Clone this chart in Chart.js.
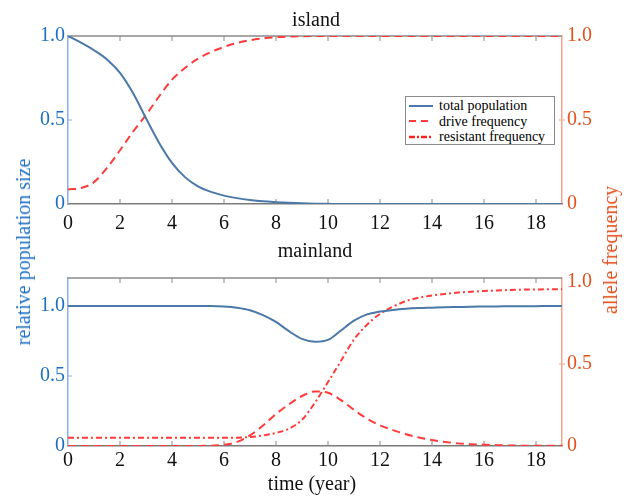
<!DOCTYPE html>
<html>
<head>
<meta charset="utf-8">
<script src="https://cdn.jsdelivr.net/npm/chart.js@4"></script>
<style>
  body { margin:0; background:#fff; font-family:"Liberation Serif", "Times New Roman", serif; }
  #wrap { position:relative; width:634px; height:497px; overflow:hidden; }
  canvas { position:absolute; left:0; }
  .lbl { position:absolute; font-size:20px; line-height:20px; white-space:nowrap; color:#111; }
  .rot { transform:translate(-50%,-50%) rotate(-90deg); }
  #legend { position:absolute; left:405px; top:96px; width:148px; height:46px; border:1.5px solid #8a8a8a; background:#fff; font-size:14px; line-height:15.5px; padding-top:1px; }
  #legend div { display:flex; align-items:center; }
  #legend svg { margin:0 6px 0 3px; }
</style>
</head>
<body>
<div id="wrap">
  <canvas id="island" width="634" height="245" style="top:0"></canvas>
  <canvas id="mainland" width="634" height="257" style="top:240px"></canvas>

  <div class="lbl" style="left:316px;top:9px;transform:translateX(-50%)">island</div>
  <div class="lbl" style="left:315px;top:240px;transform:translateX(-50%)">mainland</div>
  <div class="lbl" style="left:312px;top:473px;transform:translateX(-50%)">time (year)</div>
  <div class="lbl rot" style="left:23px;top:252px;color:#1f6fc4">relative population size</div>
  <div class="lbl rot" style="left:610px;top:250px;color:#e4511e">allele frequency</div>

  <div id="legend">
    <div><svg width="24" height="6"><line x1="0" y1="3" x2="24" y2="3" stroke="#4a78a8" stroke-width="2"/></svg>total population</div>
    <div><svg width="24" height="6"><line x1="0" y1="3" x2="24" y2="3" stroke="#ff3b3b" stroke-width="2" stroke-dasharray="7,5"/></svg>drive frequency</div>
    <div><svg width="24" height="6"><line x1="0" y1="3" x2="24" y2="3" stroke="#ff2020" stroke-width="2.5" stroke-dasharray="6,2,2,2"/></svg>resistant frequency</div>
  </div>
</div>

<script>
(() => {
  // data
  const years = [0,0.5,1,1.5,2,2.5,3,3.5,4,4.5,5,5.5,6,6.5,7,7.5,8,8.5,9,9.5,
                 10,10.5,11,11.5,12,12.5,13,13.5,14,14.5,15,15.5,16,16.5,17,17.5,18,18.5,19];

  const islandTotal = [1.0,0.96,0.915,0.86,0.78,0.66,0.51,0.365,0.245,0.16,0.105,0.072,0.05,0.035,0.024,0.016,0.011,0.007,0.004,0.002,
                       0.001,0,0,0,0,0,0,0,0,0,0,0,0,0,0,0,0,0,0];
  const islandDrive = [0.087,0.095,0.13,0.215,0.32,0.43,0.53,0.64,0.74,0.81,0.865,0.905,0.935,0.958,0.975,0.986,0.993,0.997,0.999,1.0,
                       1.0,1.0,1.0,1.0,1.0,1.0,1.0,1.0,1.0,1.0,1.0,1.0,1.0,1.0,1.0,1.0,1.0,1.0,1.0];

  const mainTotal = [1.0,1.0,1.0,1.0,1.0,1.0,1.0,1.0,1.0,1.0,1.0,1.0,0.997,0.988,0.97,0.935,0.886,0.82,0.765,0.745,
                     0.758,0.825,0.895,0.94,0.96,0.972,0.98,0.985,0.988,0.991,0.993,0.995,0.996,0.997,0.998,0.999,0.999,1.0,1.0];
  const mainDrive = [0,0,0,0,0,0,0,0,0,0,0,0.002,0.007,0.025,0.065,0.125,0.195,0.255,0.305,0.333,
                     0.325,0.28,0.22,0.167,0.126,0.097,0.072,0.052,0.036,0.025,0.016,0.011,0.008,0.005,0.003,0.002,0.002,0.001,0.001];
  const mainResist = [0.05,0.05,0.05,0.05,0.05,0.05,0.05,0.05,0.05,0.05,0.05,0.05,0.05,0.051,0.055,0.064,0.08,0.106,0.16,0.265,
                      0.39,0.52,0.65,0.74,0.806,0.85,0.884,0.905,0.918,0.928,0.936,0.941,0.946,0.949,0.952,0.954,0.955,0.956,0.956];

  const xTicks = [0,2,4,6,8,10,12,14,16,18];
  const yTicks = [0,0.5,1.0];

  // colours
  const BLUE_TXT = '#1f6fc4', RED_TXT = '#e4511e';
  const BLUE_AX = '#86b0e2', RED_AX = '#f4a48a';
  const LINE_BLUE = '#4a78a8', LINE_RED = '#ff3b3b';
  const FONT = { family: '"Liberation Serif", "Times New Roman", serif', size: 20 };

  const pts = arr => arr.map((v, i) => ({ x: years[i], y: v }));
  const fmt = v => v === 0 ? '0' : v.toFixed(1);
  const setTicks = vals => s => { s.ticks = vals.map(v => ({ value: v })); };

  // top border + inward tick marks
  const frameTicks = {
    id: 'frameTicks',
    beforeDatasetsDraw(chart) {
      const { ctx, chartArea: a, scales } = chart;
      ctx.save();
      ctx.strokeStyle = '#8a8a8a';
      ctx.lineWidth = 1.5;
      ctx.beginPath();
      ctx.moveTo(a.left, a.top); ctx.lineTo(a.right, a.top);
      ctx.stroke();
      ctx.lineWidth = 1;
      xTicks.forEach(t => {
        const px = scales.x.getPixelForValue(t);
        if (px <= a.left + 1) return;
        ctx.beginPath();
        ctx.moveTo(px, a.top); ctx.lineTo(px, a.top + 5);
        ctx.moveTo(px, a.bottom); ctx.lineTo(px, a.bottom - 5);
        ctx.stroke();
      });
      ctx.strokeStyle = BLUE_AX;
      ctx.beginPath();
      ctx.moveTo(a.left, scales.y.getPixelForValue(0.5));
      ctx.lineTo(a.left + 4, scales.y.getPixelForValue(0.5));
      ctx.stroke();
      ctx.strokeStyle = RED_AX;
      ctx.beginPath();
      ctx.moveTo(a.right - 3, scales.y1.getPixelForValue(0.5));
      ctx.lineTo(a.right + 3, scales.y1.getPixelForValue(0.5));
      ctx.stroke();
      ctx.restore();
    }
  };

  function lineSet(label, data, color, dash, axis, width) {
    return {
      label: label, data: pts(data), yAxisID: axis,
      borderColor: color, borderWidth: width || 2, borderDash: dash || [],
      pointRadius: 0, cubicInterpolationMode: 'monotone', fill: false
    };
  }

  function makeChart(id, datasets, c) {
    return new Chart(document.getElementById(id), {
      type: 'line',
      data: { datasets: datasets },
      plugins: [frameTicks],
      options: {
        responsive: false, animation: false,
        layout: { padding: { top: c.padTop, left: 0, right: 0, bottom: 0 } },
        plugins: { legend: { display: false }, tooltip: { enabled: false } },
        scales: {
          x: {
            type: 'linear', min: 0, max: 19,
            afterBuildTicks: setTicks(xTicks),
            afterFit: s => { s.height = c.xHeight; },
            grid: { display: false, drawTicks: false, tickLength: 0 },
            border: { color: '#7a7a7a', width: 1.5 },
            ticks: { color: '#111', font: FONT, padding: c.xPad, maxRotation: 0 }
          },
          y: {
            position: 'left', min: 0, max: c.yMax,
            afterBuildTicks: setTicks(yTicks),
            afterFit: s => { s.width = 68; },
            grid: { display: false, drawTicks: false, tickLength: 0 },
            border: { color: BLUE_AX, width: 1.5 },
            ticks: { color: BLUE_TXT, font: FONT, padding: 3, callback: fmt }
          },
          y1: {
            position: 'right', min: 0, max: c.y1Max,
            afterBuildTicks: setTicks(yTicks),
            afterFit: s => { s.width = 72; },
            grid: { display: false, drawTicks: false, tickLength: 0 },
            border: { color: RED_AX, width: 1.5 },
            ticks: { color: RED_TXT, font: FONT, padding: 5, callback: fmt }
          }
        }
      }
    });
  }

  makeChart('island', [
    lineSet('total population', islandTotal, LINE_BLUE, null, 'y'),
    lineSet('drive frequency', islandDrive, LINE_RED, [8, 5], 'y1')
  ], { yMax: 1.0, y1Max: 1.0, padTop: 36, xHeight: 41, xPad: 8 });

  makeChart('mainland', [
    lineSet('total population', mainTotal, LINE_BLUE, null, 'y'),
    lineSet('drive frequency', mainDrive, LINE_RED, [8, 5], 'y1'),
    lineSet('resistant frequency', mainResist, LINE_RED, [6, 3, 2, 3], 'y1')
  ], { yMax: 1.2, y1Max: 1.025, padTop: 38, xHeight: 51, xPad: 3 });
})();
</script>
</body>
</html>
